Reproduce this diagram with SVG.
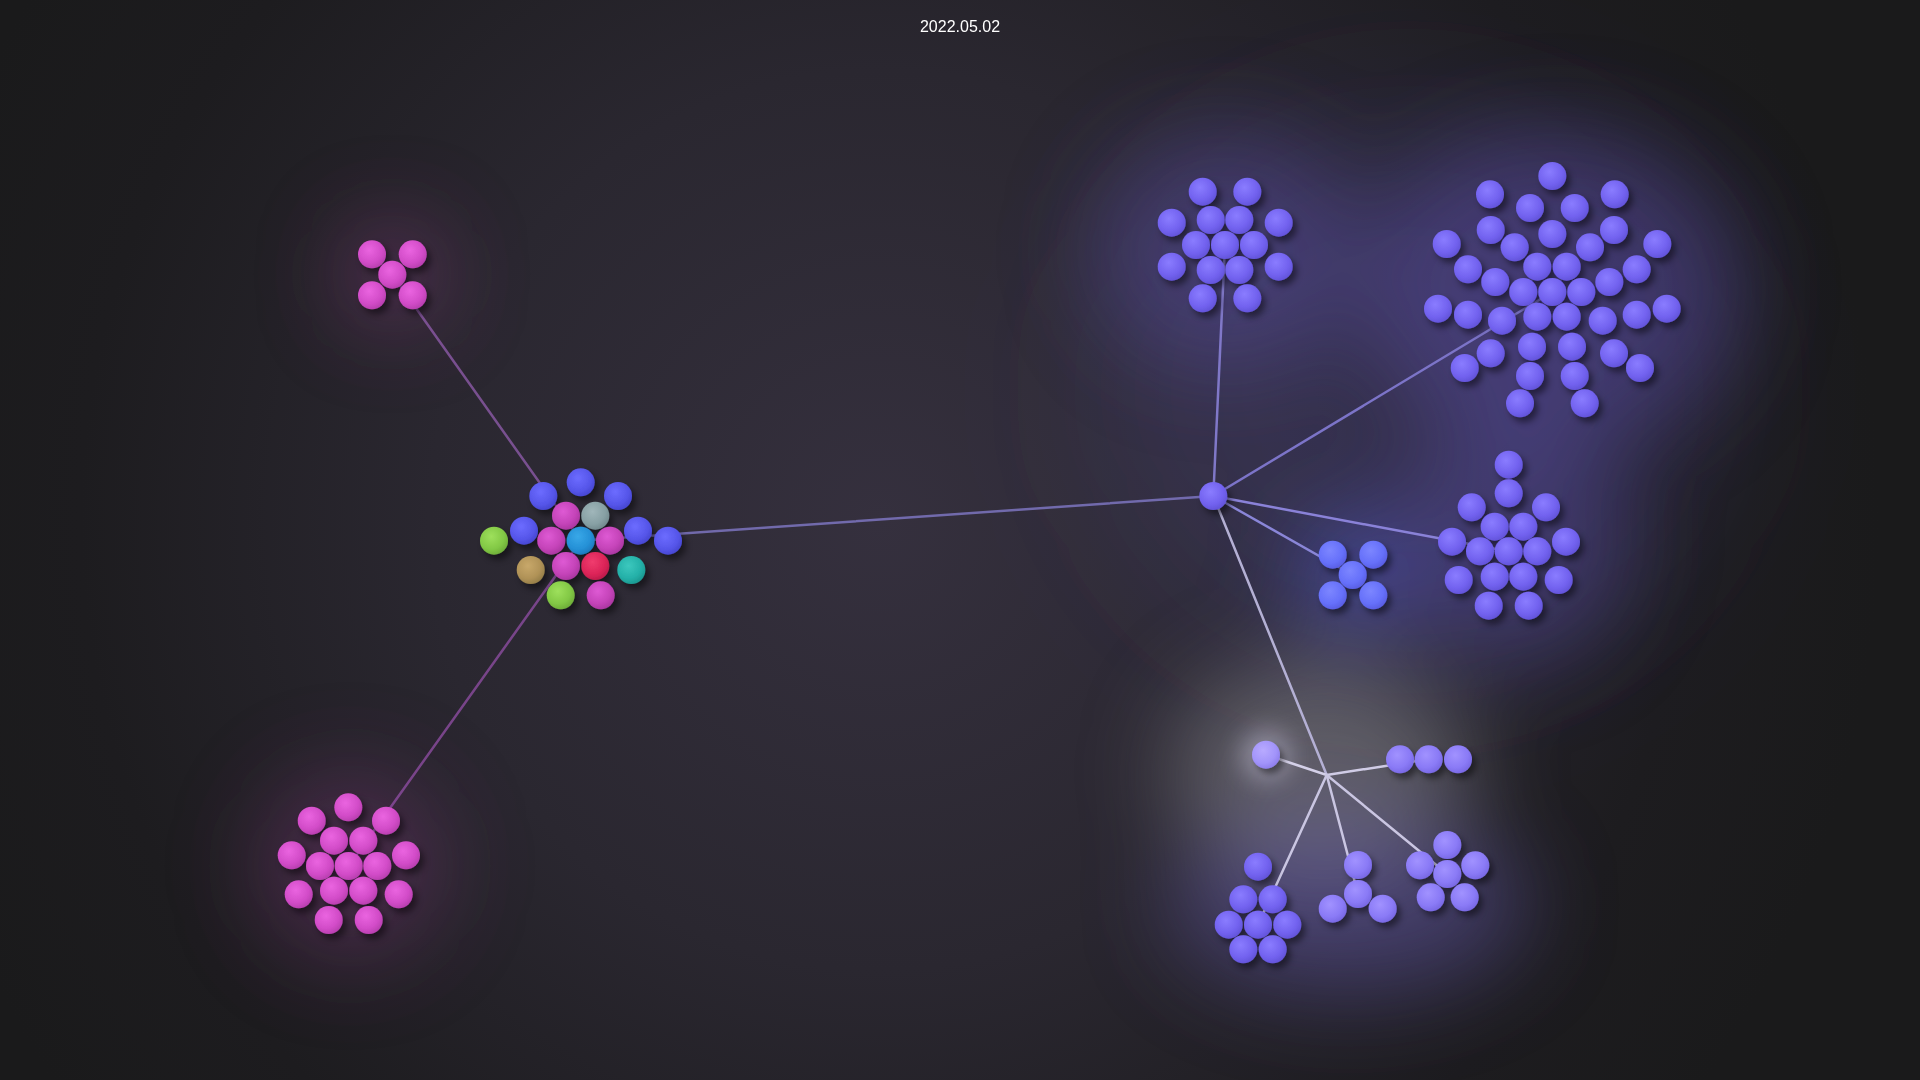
<svg xmlns="http://www.w3.org/2000/svg" width="1920" height="1080" viewBox="0 0 1920 1080">
<defs>
<radialGradient id="bg" cx="880" cy="520" r="1000" gradientUnits="userSpaceOnUse">
<stop offset="0" stop-color="#35303e"/>
<stop offset="0.45" stop-color="#2a2730"/>
<stop offset="0.8" stop-color="#1d1c1f"/>
<stop offset="1" stop-color="#1a1a1b"/>
</radialGradient>
<filter id="blur" x="-100%" y="-100%" width="300%" height="300%"><feGaussianBlur stdDeviation="45"/></filter>
<filter id="blurL" x="-100%" y="-100%" width="300%" height="300%"><feGaussianBlur stdDeviation="80"/></filter>
<filter id="blurS" x="-100%" y="-100%" width="300%" height="300%"><feGaussianBlur stdDeviation="12"/></filter>
<filter id="sh" x="-50%" y="-50%" width="200%" height="200%"><feDropShadow dx="4" dy="5" stdDeviation="3" flood-color="#000" flood-opacity="0.45"/></filter>
<radialGradient id="gP" cx="0.4" cy="0.35" r="0.65"><stop offset="0" stop-color="#8a7cff"/><stop offset="0.7" stop-color="#7262ef"/><stop offset="1" stop-color="#6455dc"/></radialGradient>
<radialGradient id="gL" cx="0.4" cy="0.35" r="0.65"><stop offset="0" stop-color="#a192ff"/><stop offset="0.7" stop-color="#8a7af6"/><stop offset="1" stop-color="#7a6ae6"/></radialGradient>
<radialGradient id="gW" cx="0.4" cy="0.35" r="0.65"><stop offset="0" stop-color="#b8aaff"/><stop offset="0.7" stop-color="#a294fa"/><stop offset="1" stop-color="#9080ee"/></radialGradient>
<radialGradient id="gB" cx="0.4" cy="0.35" r="0.65"><stop offset="0" stop-color="#6c6cff"/><stop offset="0.7" stop-color="#5656ea"/><stop offset="1" stop-color="#4848d4"/></radialGradient>
<radialGradient id="gBB" cx="0.4" cy="0.35" r="0.65"><stop offset="0" stop-color="#7c86ff"/><stop offset="0.7" stop-color="#6670fa"/><stop offset="1" stop-color="#5a60e6"/></radialGradient>
<radialGradient id="gM" cx="0.4" cy="0.35" r="0.65"><stop offset="0" stop-color="#de5ad4"/><stop offset="0.7" stop-color="#c443b8"/><stop offset="1" stop-color="#ad38a3"/></radialGradient>
<radialGradient id="gK" cx="0.4" cy="0.35" r="0.65"><stop offset="0" stop-color="#ea64e0"/><stop offset="0.7" stop-color="#d24cc8"/><stop offset="1" stop-color="#bb40b2"/></radialGradient>
<radialGradient id="gG" cx="0.4" cy="0.35" r="0.65"><stop offset="0" stop-color="#9ee05c"/><stop offset="0.7" stop-color="#82c845"/><stop offset="1" stop-color="#70b03a"/></radialGradient>
<radialGradient id="gT" cx="0.4" cy="0.35" r="0.65"><stop offset="0" stop-color="#c8a86a"/><stop offset="0.7" stop-color="#b09257"/><stop offset="1" stop-color="#98804a"/></radialGradient>
<radialGradient id="gR" cx="0.4" cy="0.35" r="0.65"><stop offset="0" stop-color="#f03c6e"/><stop offset="0.7" stop-color="#dc2458"/><stop offset="1" stop-color="#c01c4c"/></radialGradient>
<radialGradient id="gQ" cx="0.4" cy="0.35" r="0.65"><stop offset="0" stop-color="#3cc8be"/><stop offset="0.7" stop-color="#24b0a8"/><stop offset="1" stop-color="#1c9a92"/></radialGradient>
<radialGradient id="gY" cx="0.4" cy="0.35" r="0.65"><stop offset="0" stop-color="#a0b6ba"/><stop offset="0.7" stop-color="#87a0a4"/><stop offset="1" stop-color="#748c90"/></radialGradient>
<radialGradient id="gC" cx="0.4" cy="0.35" r="0.65"><stop offset="0" stop-color="#38a8e8"/><stop offset="0.7" stop-color="#2590d6"/><stop offset="1" stop-color="#1e7cc0"/></radialGradient>
</defs>
<style>
.n circle{stroke:none}
.p{fill:url(#gP)} .l{fill:url(#gL)} .w{fill:url(#gW)} .b{fill:url(#gB)} .bb{fill:url(#gBB)}
.m{fill:url(#gM)} .k{fill:url(#gK)} .g{fill:url(#gG)} .t{fill:url(#gT)} .r{fill:url(#gR)}
.q{fill:url(#gQ)} .y{fill:url(#gY)} .c{fill:url(#gC)}
.n{filter:url(#sh)}
.e{fill:none;stroke-width:2.5;stroke-linecap:round}
.title{font-family:"Liberation Sans",Arial,sans-serif;font-size:16px;fill:#ffffff;text-anchor:middle}
</style>
<rect width="1920" height="1080" fill="url(#bg)"/>
<g id="glows-wide" filter="url(#blurL)">
<ellipse cx="1410" cy="390" rx="300" ry="270" fill="#5a50b0" opacity="0.22"/>
</g>
<g id="glows" filter="url(#blur)">
<circle cx="392" cy="274" r="50" fill="#d050c4" opacity="0.3"/>
<circle cx="350" cy="866" r="95" fill="#c84cbe" opacity="0.22"/>
<ellipse cx="1225" cy="250" rx="135" ry="120" fill="#6a5ccc" opacity="0.3"/>
<ellipse cx="1555" cy="290" rx="190" ry="160" fill="#6a5ccc" opacity="0.35"/>
<ellipse cx="1510" cy="545" rx="120" ry="120" fill="#6a5ccc" opacity="0.3"/>
<circle cx="1353" cy="575" r="55" fill="#5a68ff" opacity="0.45"/>
<ellipse cx="1320" cy="770" rx="150" ry="110" fill="#a8a6ae" opacity="0.42"/>
<ellipse cx="1350" cy="905" rx="180" ry="90" fill="#7a6ee0" opacity="0.35"/>
</g>
<circle cx="1266" cy="755" r="26" fill="#e8e4ff" opacity="0.35" filter="url(#blurS)"/>
<text class="title" x="960" y="32">2022.05.02</text>
<g id="connectors">
<line class="e" x1="392.3" y1="274.7" x2="580.7" y2="540.7" stroke="#8c5aa8" stroke-opacity="0.8"/>
<line class="e" x1="348.7" y1="866" x2="580.7" y2="540.7" stroke="#8c4ca0" stroke-opacity="0.8"/>
<line class="e" x1="580.7" y1="540.7" x2="1213.3" y2="496" stroke="#7c74c0" stroke-opacity="0.85"/>
<line class="e" x1="1213.3" y1="496" x2="1225" y2="245" stroke="#8078c8"/>
<line class="e" x1="1213.3" y1="496" x2="1552.3" y2="292" stroke="#7c74c8"/>
<line class="e" x1="1213.3" y1="496" x2="1508.7" y2="551.3" stroke="#8a82d8"/>
<line class="e" x1="1213.3" y1="496" x2="1352.7" y2="575" stroke="#8a86d8"/>
<line class="e" x1="1213.3" y1="496" x2="1326.7" y2="775" stroke="#b4b0d4"/>
<line class="e" x1="1326.7" y1="775" x2="1266" y2="754.7" stroke="#d4d0e8"/>
<line class="e" x1="1326.7" y1="775" x2="1428.7" y2="759.3" stroke="#d0cce6"/>
<line class="e" x1="1326.7" y1="775" x2="1258" y2="924.7" stroke="#cac6e2"/>
<line class="e" x1="1326.7" y1="775" x2="1358" y2="894" stroke="#cac6e2"/>
<line class="e" x1="1326.7" y1="775" x2="1447.3" y2="874" stroke="#cac6e2"/>
</g>
<g id="node-pink-top" class="n">
<circle class="k" cx="372" cy="254.3" r="14"/><circle class="k" cx="412.7" cy="254.3" r="14"/>
<circle class="k" cx="392.3" cy="274.7" r="14"/>
<circle class="k" cx="372" cy="295.3" r="14"/><circle class="k" cx="412.7" cy="295.3" r="14"/>
</g>
<g id="node-pink-bottom" class="n">
<circle class="k" cx="348.3" cy="807.3" r="14"/>
<circle class="k" cx="311.7" cy="820.7" r="14"/><circle class="k" cx="386" cy="820.7" r="14"/>
<circle class="k" cx="334" cy="840.7" r="14"/><circle class="k" cx="363.3" cy="840.7" r="14"/>
<circle class="k" cx="291.7" cy="855.3" r="14"/><circle class="k" cx="406" cy="855.3" r="14"/>
<circle class="k" cx="320" cy="866" r="14"/><circle class="k" cx="348.7" cy="866" r="14"/><circle class="k" cx="377.3" cy="866" r="14"/>
<circle class="k" cx="334" cy="890.7" r="14"/><circle class="k" cx="363.3" cy="890.7" r="14"/>
<circle class="k" cx="298.7" cy="894.3" r="14"/><circle class="k" cx="398.7" cy="894.3" r="14"/>
<circle class="k" cx="328.7" cy="920" r="14"/><circle class="k" cx="368.7" cy="920" r="14"/>
</g>
<g id="node-center" class="n">
<circle class="b" cx="580.7" cy="482.3" r="14"/>
<circle class="b" cx="543.3" cy="496" r="14"/><circle class="b" cx="618" cy="496" r="14"/>
<circle class="m" cx="566" cy="515.7" r="14"/><circle class="y" cx="595.3" cy="515.7" r="14"/>
<circle class="b" cx="524" cy="530.7" r="14"/><circle class="b" cx="638" cy="530.7" r="14"/>
<circle class="g" cx="494" cy="540.7" r="14"/>
<circle class="m" cx="551.3" cy="540.7" r="14"/><circle class="c" cx="580.7" cy="540.7" r="14"/><circle class="m" cx="610" cy="540.7" r="14"/>
<circle class="b" cx="668" cy="540.7" r="14"/>
<circle class="t" cx="530.7" cy="570" r="14"/>
<circle class="m" cx="566" cy="566" r="14"/><circle class="r" cx="595.3" cy="566" r="14"/>
<circle class="q" cx="631.3" cy="570" r="14"/>
<circle class="g" cx="560.7" cy="595.3" r="14"/><circle class="m" cx="600.7" cy="595.3" r="14"/>
</g>
<g id="node-hub" class="n">
<circle class="p" cx="1213.3" cy="496" r="14"/>
</g>
<g id="node-top-middle" class="n">
<circle class="p" cx="1202.7" cy="191.7" r="14"/><circle class="p" cx="1247.3" cy="191.7" r="14"/>
<circle class="p" cx="1171.7" cy="222.7" r="14"/><circle class="p" cx="1210.7" cy="220" r="14"/><circle class="p" cx="1239.3" cy="220" r="14"/><circle class="p" cx="1278.7" cy="222.7" r="14"/>
<circle class="p" cx="1196" cy="245" r="14"/><circle class="p" cx="1225" cy="245" r="14"/><circle class="p" cx="1254" cy="245" r="14"/>
<circle class="p" cx="1171.7" cy="266.7" r="14"/><circle class="p" cx="1210.7" cy="270" r="14"/><circle class="p" cx="1239.3" cy="270" r="14"/><circle class="p" cx="1278.7" cy="266.7" r="14"/>
<circle class="p" cx="1202.7" cy="298.3" r="14"/><circle class="p" cx="1247.3" cy="298.3" r="14"/>
</g>
<g id="node-top-right" class="n">
<circle class="p" cx="1552.3" cy="176" r="14"/>
<circle class="p" cx="1490" cy="194.3" r="14"/><circle class="p" cx="1614.7" cy="194.3" r="14"/>
<circle class="p" cx="1530" cy="208" r="14"/><circle class="p" cx="1574.7" cy="208" r="14"/>
<circle class="p" cx="1490.7" cy="230" r="14"/><circle class="p" cx="1552.3" cy="234" r="14"/><circle class="p" cx="1614" cy="230" r="14"/>
<circle class="p" cx="1446.7" cy="244" r="14"/><circle class="p" cx="1514.7" cy="247.3" r="14"/><circle class="p" cx="1590" cy="247.3" r="14"/><circle class="p" cx="1657.3" cy="244" r="14"/>
<circle class="p" cx="1468" cy="269.3" r="14"/><circle class="p" cx="1537.3" cy="266.7" r="14"/><circle class="p" cx="1566.7" cy="266.7" r="14"/><circle class="p" cx="1636.7" cy="269.3" r="14"/>
<circle class="p" cx="1495.3" cy="282" r="14"/><circle class="p" cx="1609.3" cy="282" r="14"/>
<circle class="p" cx="1523.3" cy="292" r="14"/><circle class="p" cx="1552.3" cy="292" r="14"/><circle class="p" cx="1581.3" cy="292" r="14"/>
<circle class="p" cx="1438" cy="308.7" r="14"/><circle class="p" cx="1468" cy="314.7" r="14"/><circle class="p" cx="1502" cy="320.7" r="14"/>
<circle class="p" cx="1537.3" cy="316.7" r="14"/><circle class="p" cx="1566.7" cy="316.7" r="14"/>
<circle class="p" cx="1602.7" cy="320.7" r="14"/><circle class="p" cx="1636.7" cy="314.7" r="14"/><circle class="p" cx="1666.7" cy="308.7" r="14"/>
<circle class="p" cx="1490.7" cy="353.3" r="14"/><circle class="p" cx="1532" cy="346.7" r="14"/><circle class="p" cx="1572" cy="346.7" r="14"/><circle class="p" cx="1614" cy="353.3" r="14"/>
<circle class="p" cx="1464.7" cy="368" r="14"/><circle class="p" cx="1640" cy="368" r="14"/>
<circle class="p" cx="1530" cy="376" r="14"/><circle class="p" cx="1574.7" cy="376" r="14"/>
<circle class="p" cx="1520" cy="403.3" r="14"/><circle class="p" cx="1584.7" cy="403.3" r="14"/>
</g>
<g id="node-right-middle" class="n">
<circle class="p" cx="1508.7" cy="464.7" r="14"/>
<circle class="p" cx="1508.7" cy="493.3" r="14"/>
<circle class="p" cx="1471.7" cy="507.3" r="14"/><circle class="p" cx="1546" cy="507.3" r="14"/>
<circle class="p" cx="1494.7" cy="526.7" r="14"/><circle class="p" cx="1523.3" cy="526.7" r="14"/>
<circle class="p" cx="1452" cy="541.7" r="14"/><circle class="p" cx="1566" cy="541.7" r="14"/>
<circle class="p" cx="1480" cy="551.3" r="14"/><circle class="p" cx="1508.7" cy="551.3" r="14"/><circle class="p" cx="1537.3" cy="551.3" r="14"/>
<circle class="p" cx="1494.7" cy="576.7" r="14"/><circle class="p" cx="1523.3" cy="576.7" r="14"/>
<circle class="p" cx="1458.7" cy="580" r="14"/><circle class="p" cx="1558.7" cy="580" r="14"/>
<circle class="p" cx="1488.7" cy="605.7" r="14"/><circle class="p" cx="1528.7" cy="605.7" r="14"/>
</g>
<g id="node-blue-small" class="n">
<circle class="bb" cx="1332.7" cy="554.7" r="14"/><circle class="bb" cx="1373.3" cy="554.7" r="14"/>
<circle class="bb" cx="1352.7" cy="575" r="14"/>
<circle class="bb" cx="1332.7" cy="595.3" r="14"/><circle class="bb" cx="1373.3" cy="595.3" r="14"/>
</g>
<g id="node-single" class="n">
<circle class="w" cx="1266" cy="754.7" r="14"/>
</g>
<g id="node-row-three" class="n">
<circle class="l" cx="1400" cy="759.3" r="14"/><circle class="l" cx="1428.7" cy="759.3" r="14"/><circle class="l" cx="1458" cy="759.3" r="14"/>
</g>
<g id="node-bottom-left" class="n">
<circle class="p" cx="1258" cy="866.7" r="14"/>
<circle class="p" cx="1243.3" cy="899.3" r="14"/><circle class="p" cx="1272.7" cy="899.3" r="14"/>
<circle class="p" cx="1228.7" cy="924.7" r="14"/><circle class="p" cx="1258" cy="924.7" r="14"/><circle class="p" cx="1287.3" cy="924.7" r="14"/>
<circle class="p" cx="1243.3" cy="949.3" r="14"/><circle class="p" cx="1272.7" cy="949.3" r="14"/>
</g>
<g id="node-bottom-middle" class="n">
<circle class="l" cx="1358" cy="865" r="14"/>
<circle class="l" cx="1358" cy="894" r="14"/>
<circle class="l" cx="1332.7" cy="908.7" r="14"/><circle class="l" cx="1382.7" cy="908.7" r="14"/>
</g>
<g id="node-bottom-right" class="n">
<circle class="l" cx="1447.3" cy="845" r="14"/>
<circle class="l" cx="1420" cy="865.3" r="14"/><circle class="l" cx="1475.3" cy="865.3" r="14"/>
<circle class="l" cx="1447.3" cy="874" r="14"/>
<circle class="l" cx="1430.7" cy="897.3" r="14"/><circle class="l" cx="1464.7" cy="897.3" r="14"/>
</g>
</svg>
